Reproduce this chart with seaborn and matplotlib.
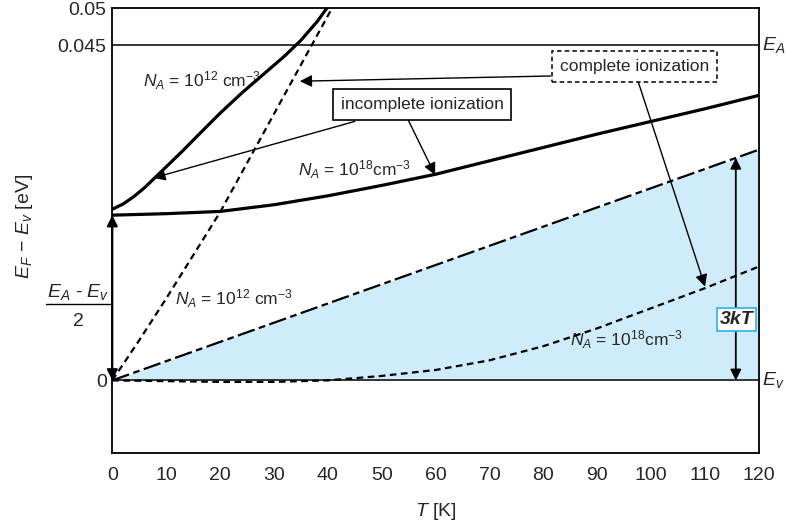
import numpy as np
import pandas as pd
import seaborn as sns
import matplotlib.pyplot as plt

# Dados (T em K, E_F - E_v em eV)
t_12_inc = [0, 2, 4, 6, 8, 10, 13, 16, 20, 24, 28, 32, 35, 38, 40]
e_12_inc = [0.0230, 0.0237, 0.0247, 0.0259, 0.0273, 0.0287, 0.0308, 0.0330,
            0.0359, 0.0386, 0.0411, 0.0436, 0.0457, 0.0482, 0.0502]

t_12_com = [0, 5, 10, 15, 20, 25, 30, 35, 40, 42]
e_12_com = [0.0, 0.0054, 0.0110, 0.0168, 0.0226, 0.0292, 0.0358, 0.0424, 0.0490, 0.0516]

t_18 = [0, 10, 20, 30, 40, 50, 60, 70, 80, 90, 100, 110, 120]
e_18_inc = [0.0222, 0.0224, 0.0227, 0.0236, 0.0248, 0.0262, 0.0277, 0.0295,
            0.0313, 0.0331, 0.0348, 0.0365, 0.0383]
e_18_com = [0.0, -0.0001, -0.0002, -0.0002, 0.0, 0.0006, 0.0014, 0.0027,
            0.0046, 0.0070, 0.0097, 0.0124, 0.0153]

t_3kt = [0, 120]
e_3kt = [0.0, 0.0310]

e_a = 0.045
e_half = 0.0222

sns.set_theme(style='white')
plt.rcParams['font.family'] = ['Liberation Sans', 'DejaVu Sans']
plt.rcParams['mathtext.fontset'] = 'custom'
plt.rcParams['mathtext.rm'] = 'Liberation Sans'
plt.rcParams['mathtext.it'] = 'Liberation Sans:italic'
plt.rcParams['mathtext.bf'] = 'Liberation Sans:bold'

fig = plt.figure(figsize=(7.87, 5.27), dpi=100)
ax = fig.add_axes([0.1427, 0.1398, 0.8217, 0.8445])

# Área 3kT
ax.fill_between(t_3kt, 0, e_3kt, color='#cfecfb', lw=0, zorder=1)
sns.lineplot(x=t_3kt, y=e_3kt, ax=ax, color='black', linewidth=1.6,
             linestyle=(0, (8, 2, 3, 2)), zorder=3)

# Linhas E_A e E_v
ax.axhline(e_a, color='black', lw=1.1, zorder=2)
ax.axhline(0, color='#333333', lw=1.4, zorder=2)

# Curvas
sns.lineplot(x=t_12_inc, y=e_12_inc, ax=ax, color='black', linewidth=2.3, zorder=4)
sns.lineplot(x=t_18, y=e_18_inc, ax=ax, color='black', linewidth=2.3, zorder=4)
sns.lineplot(x=t_12_com, y=e_12_com, ax=ax, color='black', linewidth=1.6,
             linestyle=(0, (3, 2)), zorder=4)
sns.lineplot(x=t_18, y=e_18_com, ax=ax, color='black', linewidth=1.6,
             linestyle=(0, (3, 2)), zorder=4)

ax.set_xlim(0, 120)
ax.set_ylim(-0.0098, 0.05)
ax.set_xticks(range(0, 121, 10))
ax.set_yticks([0, 0.045, 0.05])
ax.set_yticklabels(['0', '0.045', '0.05'])
ax.tick_params(axis='x', direction='in', length=8.5, width=1.2, labelsize=14, pad=10, color='black')
ax.tick_params(axis='y', length=0, labelsize=14, pad=4)
for s in ax.spines.values():
    s.set_color('black')
    s.set_linewidth(1.3)

ax.set_xlabel(r'$T$ [K]', fontsize=14, labelpad=12)
ax.set_ylabel(r'$E_F$ $-$ $E_v$ [eV]', fontsize=14)
ax.yaxis.set_label_coords(-0.12, 0.51)

# Rótulos à direita
ax.text(1.004, e_a, r'$E_A$', transform=ax.get_yaxis_transform(), fontsize=14,
        ha='left', va='center')
ax.text(1.004, 0, r'$E_v$', transform=ax.get_yaxis_transform(), fontsize=14,
        ha='left', va='center')

# Fração (E_A - E_v)/2
ax.text(-0.053, 0.363, r'$E_A$ - $E_v$', transform=ax.transAxes, fontsize=14,
        ha='center', va='center')
ax.plot([-0.1027, -0.0036], [0.3357, 0.3357], transform=ax.transAxes, color='black',
        lw=1.0, clip_on=False)
ax.text(-0.053, 0.297, '2', transform=ax.transAxes, fontsize=14, ha='center', va='center')

# Seta dupla no eixo y
ax.annotate('', xy=(0, e_half), xytext=(0, 0),
            arrowprops=dict(arrowstyle='<|-|>', color='black', lw=1.5, mutation_scale=16,
                            shrinkA=0, shrinkB=0), annotation_clip=False, zorder=6)

# Seta 3kT
ax.annotate('', xy=(115.7, 0.0299), xytext=(115.7, 0),
            arrowprops=dict(arrowstyle='<|-|>', color='black', lw=1.3, mutation_scale=16,
                            shrinkA=0, shrinkB=0), zorder=5)
ax.text(115.8, 0.0082, '3kT', fontsize=14, fontweight='bold', fontstyle='italic',
        ha='center', va='center', zorder=7,
        bbox=dict(boxstyle='square,pad=0.15', fc='white', ec='#3fb3ee', lw=1.3))

# Textos N_A
fs = 12.5
ax.text(16.6, 0.0395, r'$N_A$ = 10$^{12}$ cm$^{-3}$', fontsize=fs, ha='center', va='baseline')
ax.text(45.0, 0.0275, r'$N_A$ = 10$^{18}$cm$^{-3}$', fontsize=fs, ha='center', va='baseline')
ax.text(22.5, 0.0102, r'$N_A$ = 10$^{12}$ cm$^{-3}$', fontsize=fs, ha='center', va='baseline')
ax.text(95.4, 0.0046, r'$N_A$ = 10$^{18}$cm$^{-3}$', fontsize=fs, ha='center', va='baseline')

# Caixas e setas
ax.text(57.5, 0.0371, 'incomplete ionization', fontsize=fs, ha='center', va='center', zorder=7,
        bbox=dict(boxstyle='square,pad=0.45', fc='white', ec='black', lw=1.2))
ax.text(96.9, 0.04215, 'complete ionization', fontsize=fs, ha='center', va='center', zorder=7,
        bbox=dict(boxstyle='square,pad=0.45', fc='white', ec='black', lw=1.1, ls=(0, (3, 2))))

arrow = dict(arrowstyle='-|>', color='black', lw=1.0, mutation_scale=18, shrinkA=0, shrinkB=0)
ax.annotate('', xy=(7.6, 0.0272), xytext=(45.0, 0.0348), arrowprops=arrow, zorder=6)
ax.annotate('', xy=(59.9, 0.0276), xytext=(54.9, 0.0350), arrowprops=arrow, zorder=6)
ax.annotate('', xy=(34.8, 0.0402), xytext=(81.3, 0.0409), arrowprops=arrow, zorder=6)
ax.annotate('', xy=(110.0, 0.0126), xytext=(97.6, 0.0401), arrowprops=arrow, zorder=6)

plt.savefig('out.png', dpi=100)
